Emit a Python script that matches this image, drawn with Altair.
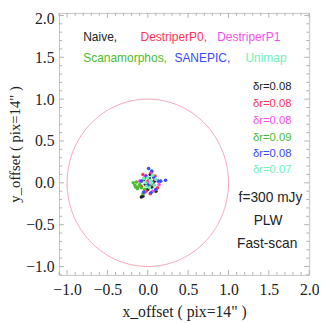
import altair as alt
import numpy as np
import pandas as pd

# ---- data ----
series_names = ["Naive", "DestriperP0", "DestriperP1", "Scanamorphos", "SANEPIC", "Unimap"]
series_colors = ["#222222", "#ff3358", "#f650ec", "#4cbb2e", "#3a4af7", "#70f0b8"]
dr_values = ["0.08", "0.08", "0.08", "0.09", "0.08", "0.07"]

naive_x = [-0.08, -0.06, 0.02, -0.03, 0.05, 0.08, -0.05, 0.00, 0.10, 0.03]
naive_y = [-0.17, -0.16, 0.05, -0.02, -0.05, 0.02, 0.04, -0.08, -0.10, 0.10]
p0_x = [0.04, -0.04, 0.07, -0.02, 0.12, 0.00, -0.08, 0.09, 0.03, -0.06]
p0_y = [0.12, 0.06, -0.02, -0.10, -0.06, 0.02, -0.04, 0.08, -0.13, 0.10]
p1_x = [0.05, -0.10, 0.10, 0.02, -0.04, 0.08, -0.03, 0.14, 0.00, 0.06]
p1_y = [0.13, 0.02, -0.08, -0.04, -0.12, 0.05, 0.08, -0.02, 0.00, -0.10]
scan_x = [-0.18, -0.16, -0.14, -0.12, -0.10, -0.13, -0.06, -0.08, -0.15, -0.04, 0.02]
scan_y = [0.00, -0.03, 0.01, -0.05, -0.02, -0.07, -0.13, -0.06, -0.05, -0.08, -0.03]
sane_x = [0.01, 0.05, 0.13, 0.16, 0.22, -0.02, 0.00, -0.05, 0.06, -0.08, 0.10, 0.04, 0.07]
sane_y = [0.17, 0.14, 0.02, 0.02, 0.03, 0.08, -0.03, -0.11, 0.00, 0.02, -0.08, -0.12, 0.07]
uni_x = [0.00, 0.03, -0.03, 0.06, 0.08, -0.05, 0.02, 0.10, -0.02, 0.05]
uni_y = [0.06, 0.03, 0.00, 0.09, -0.03, 0.05, -0.06, 0.04, -0.04, 0.00]

major_ticks = [-1.0, -0.5, 0.0, 0.5, 1.0, 1.5, 2.0]
minor_ticks = [-1.1, -0.9, -0.8, -0.7, -0.6, -0.4, -0.3, -0.2, -0.1,
               0.1, 0.2, 0.3, 0.4, 0.6, 0.7, 0.8, 0.9,
               1.1, 1.2, 1.3, 1.4, 1.6, 1.7, 1.8, 1.9]
circle_radius = 1.0

xs = [naive_x, p0_x, p1_x, scan_x, sane_x, uni_x]
ys = [naive_y, p0_y, p1_y, scan_y, sane_y, uni_y]
rows = []
for name, col, sx, sy in zip(series_names, series_colors, xs, ys):
    for a, b in zip(sx, sy):
        rows.append({"series": name, "color": col, "x": a, "y": b})
pts = pd.DataFrame(rows)

theta = np.linspace(0, 2 * np.pi, 241)
circ = pd.DataFrame({"x": circle_radius * np.cos(theta),
                     "y": circle_radius * np.sin(theta),
                     "o": np.arange(len(theta))})

legend_df = pd.DataFrame({
    "text": ["Naive,", "DestriperP0,", "DestriperP1", "Scanamorphos,", "SANEPIC,", "Unimap"],
    "x": [-0.80, -0.09, 0.86, -0.80, 0.33, 1.21],
    "y": [1.74, 1.74, 1.74, 1.49, 1.49, 1.49],
    "color": series_colors,
})
dr_df = pd.DataFrame({
    "text": ["δr=" + v for v in dr_values],
    "x": [1.78] * 6,
    "y": [1.15, 0.94, 0.74, 0.54, 0.345, 0.15],
    "color": series_colors,
})
info_df = pd.DataFrame({
    "text": ["f=300 mJy", "PLW", "Fast-scan"],
    "x": [1.52, 1.49, 1.48],
    "y": [-0.18, -0.46, -0.735],
})

W, H = 255, 267
xscale = alt.Scale(domain=[-1.1, 2.0], nice=False, zero=False)
yscale = alt.Scale(domain=[-1.1, 2.03], nice=False, zero=False)
serif = "Liberation Serif"
sans = "Liberation Sans"

xaxis = alt.Axis(values=major_ticks, format=".1f", title='x_offset ( pix=14" )',
                 ticks=False, domain=False, grid=False, labelFont=serif, labelFontSize=16,
                 labelColor="#222", titleFont=serif, titleFontSize=16, titleFontWeight="normal",
                 titleColor="#222", labelPadding=7, titlePadding=6, labelFlush=False)
yaxis = alt.Axis(values=major_ticks, format=".1f", title='y_offset ( pix=14" )',
                 ticks=False, domain=False, grid=False, labelFont=serif, labelFontSize=16,
                 labelColor="#222", titleFont=serif, titleFontSize=15, titleFontWeight="normal",
                 titleColor="#222", labelPadding=5, titlePadding=3, labelFlush=False,
                 labelOffset={"condition": {"test": "datum.value >= 2", "value": 3.5}, "value": 0})

circle = alt.Chart(circ).mark_line(color="#f5a3b5", strokeWidth=1).encode(
    x=alt.X("x:Q", scale=xscale, axis=xaxis),
    y=alt.Y("y:Q", scale=yscale, axis=yaxis),
    order="o:Q",
)

points = alt.Chart(pts).mark_circle(size=13, opacity=1).encode(
    x=alt.X("x:Q", scale=xscale),
    y=alt.Y("y:Q", scale=yscale),
    color=alt.Color("color:N", scale=None),
)

legend_txt = alt.Chart(legend_df).mark_text(align="left", baseline="middle", font=sans, fontSize=12.2).encode(
    x=alt.X("x:Q", scale=xscale), y=alt.Y("y:Q", scale=yscale),
    text="text:N", color=alt.Color("color:N", scale=None))
dr_txt = alt.Chart(dr_df).mark_text(align="right", baseline="middle", font=sans, fontSize=11.5).encode(
    x=alt.X("x:Q", scale=xscale), y=alt.Y("y:Q", scale=yscale),
    text="text:N", color=alt.Color("color:N", scale=None))
info_txt = alt.Chart(info_df).mark_text(align="center", baseline="middle", font=sans, fontSize=14,
                                         color="#222").encode(
    x=alt.X("x:Q", scale=xscale), y=alt.Y("y:Q", scale=yscale), text="text:N")

tick_color = "#b0b0b0"
maj = pd.DataFrame({"v": major_ticks})
mnr = pd.DataFrame({"v": minor_ticks})
tick_layers = []
for df, ln in [(maj, 5), (mnr, 3)]:
    tick_layers.append(alt.Chart(df).mark_rule(color=tick_color, strokeWidth=1).encode(
        x=alt.X("v:Q", scale=xscale), y=alt.value(H), y2=alt.value(H - ln)))
    tick_layers.append(alt.Chart(df).mark_rule(color=tick_color, strokeWidth=1).encode(
        x=alt.X("v:Q", scale=xscale), y=alt.value(0), y2=alt.value(ln)))
    tick_layers.append(alt.Chart(df).mark_rule(color=tick_color, strokeWidth=1).encode(
        y=alt.Y("v:Q", scale=yscale), x=alt.value(0), x2=alt.value(ln)))
    tick_layers.append(alt.Chart(df).mark_rule(color=tick_color, strokeWidth=1).encode(
        y=alt.Y("v:Q", scale=yscale), x=alt.value(W), x2=alt.value(W - ln)))

chart = alt.layer(circle, *tick_layers, points, legend_txt, dr_txt, info_txt).properties(
    width=W, height=H,
    autosize=alt.AutoSizeParams(type="none"),
    padding={"left": 52, "top": 2, "right": 10, "bottom": 44},
    background="white",
).configure_view(stroke="#c4c4c4", strokeWidth=1)

chart.save("out.html", embed_options={"renderer": "svg", "actions": False})
